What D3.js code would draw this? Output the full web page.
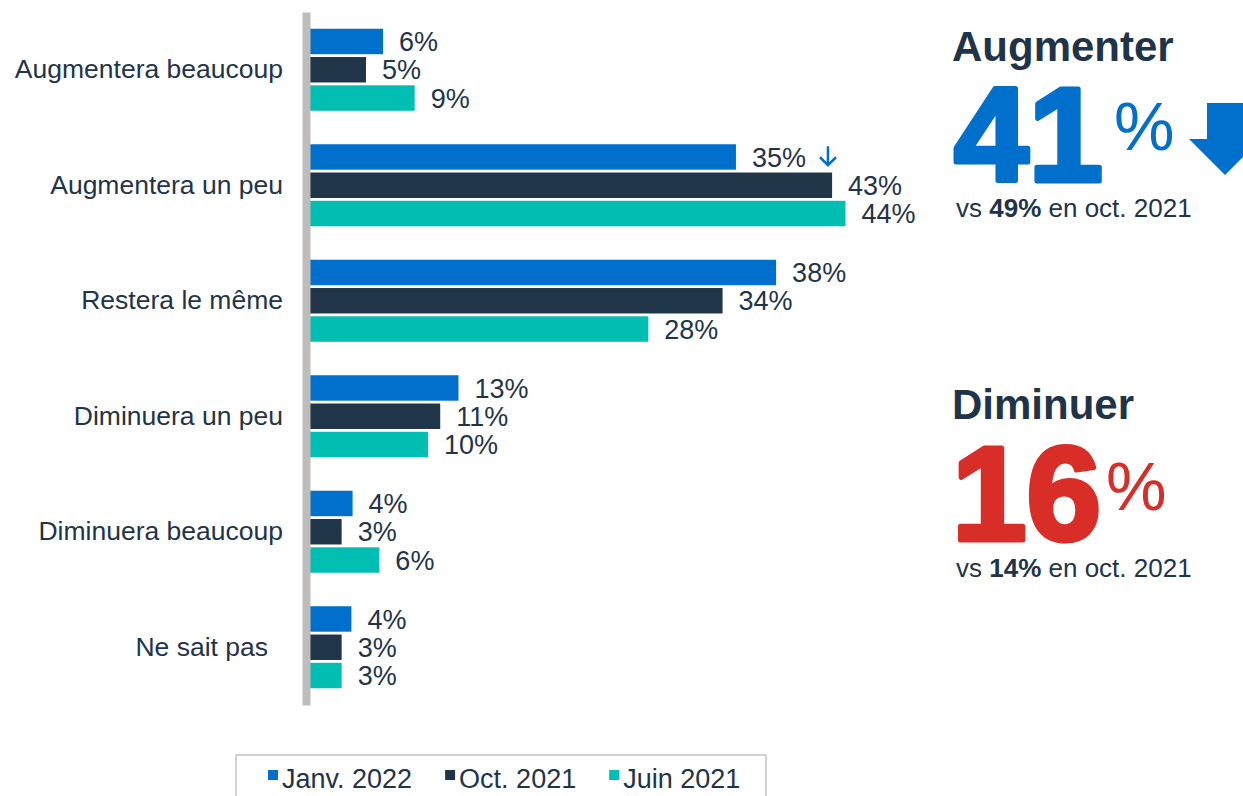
<html>
<head>
<meta charset="utf-8">
<script src="https://d3js.org/d3.v7.min.js"></script>
<style>
body { margin:0; background:#fff; }
text { font-family: "Liberation Sans", Arial, sans-serif; }
</style>
</head>
<body>
<script>
var width = 1243;
var height = 796;

var categories = ["Augmentera beaucoup", "Augmentera un peu", "Restera le même",
                  "Diminuera un peu", "Diminuera beaucoup", "Ne sait pas"];
var series = ["Janv. 2022", "Oct. 2021", "Juin 2021"];
// bar lengths
var janv2022 = [6.0, 35.0, 38.3, 12.2, 3.5, 3.4];
var oct2021 = [4.6, 42.9, 33.9, 10.7, 2.6, 2.6];
var juin2021 = [8.6, 44.0, 27.8, 9.7, 5.7, 2.6];
// printed labels
var janv2022Labels = ["6%", "35%", "38%", "13%", "4%", "4%"];
var oct2021Labels = ["5%", "43%", "34%", "11%", "3%", "3%"];
var juin2021Labels = ["9%", "44%", "28%", "10%", "6%", "3%"];

var colors = ["#0070cc", "#213549", "#00bfb2"];
var ink = "#1f3449";

var svg = d3.select("body").append("svg")
    .attr("width", width)
    .attr("height", height);

var x = d3.scaleLinear().domain([0, 50]).range([310, 310 + 608.5]);
var y0 = d3.scaleBand().domain(categories).range([12, 705])
    .paddingInner(0.29).paddingOuter(0.145);
var y1 = d3.scaleBand().domain(series).range([0, y0.bandwidth()])
    .paddingInner(0.1);
var z = d3.scaleOrdinal().domain(series).range(colors);

var table = categories.map(function(c, i) {
  return {cat: c, vals: [
    {s: series[0], v: janv2022[i], l: janv2022Labels[i]},
    {s: series[1], v: oct2021[i], l: oct2021Labels[i]},
    {s: series[2], v: juin2021[i], l: juin2021Labels[i]}
  ]};
});

var groups = svg.append("g").selectAll("g")
  .data(table)
  .enter().append("g")
    .attr("transform", function(d) { return "translate(0," + y0(d.cat) + ")"; });

groups.selectAll("rect")
  .data(function(d) { return d.vals; })
  .enter().append("rect")
    .attr("x", x(0))
    .attr("y", function(d) { return y1(d.s); })
    .attr("width", function(d) { return x(d.v) - x(0); })
    .attr("height", y1.bandwidth())
    .attr("fill", function(d) { return z(d.s); });

groups.selectAll("text.val")
  .data(function(d) { return d.vals; })
  .enter().append("text")
    .attr("class", "val")
    .attr("x", function(d) { return x(d.v) + 16; })
    .attr("y", function(d) { return y1(d.s) + y1.bandwidth() / 2; })
    .attr("dy", "0.36em")
    .attr("fill", ink)
    .style("font-size", "27px")
    .text(function(d) { return d.l; });

// axis line + category labels
var yAxis = svg.append("g")
    .attr("transform", "translate(306,0)")
    .call(d3.axisLeft(y0).tickSize(0).tickSizeOuter(0).tickPadding(23));
yAxis.select(".domain").attr("stroke", "#bfbdbb").attr("stroke-width", 8);
yAxis.selectAll(".tick text")
    .attr("fill", ink)
    .style("font-size", "26.5px")
    .style("font-family", "'Liberation Sans', Arial, sans-serif");
// last label sits a bit further left in the original
yAxis.selectAll(".tick text")
    .filter(function(d) { return d === "Ne sait pas"; })
    .attr("dx", -15);

// small arrow next to 35%
var ay = y0(categories[1]) + y1(series[0]);
var ax = x(janv2022[1]) + 92;
svg.append("path")
    .attr("d", "M" + ax + "," + (ay + 2) + "V" + (ay + 21) +
               "M" + (ax - 8) + "," + (ay + 13) + "L" + ax + "," + (ay + 21) + "L" + (ax + 8) + "," + (ay + 13))
    .attr("fill", "none")
    .attr("stroke", colors[0])
    .attr("stroke-width", 2.5);

// callouts
var right = svg.append("g").attr("fill", ink);
right.append("text").attr("x", 952).attr("y", 61)
    .style("font-size", "42px").style("font-weight", "bold").text("Augmenter");
right.append("text").attr("x", 954).attr("y", 181)
    .attr("fill", colors[0]).attr("stroke", colors[0]).attr("stroke-width", 5)
    .attr("stroke-linejoin", "round")
    .style("font-size", "134px").style("font-weight", "bold").text("41");
right.append("text").attr("x", 1114).attr("y", 150)
    .attr("fill", colors[0])
    .style("font-size", "68px").text("%");
svg.append("path")
    .attr("d", "M1207,103H1243V139H1261L1225,175L1189,139H1207Z")
    .attr("fill", colors[0]);
var t1 = right.append("text").attr("x", 956).attr("y", 217).style("font-size", "26px");
t1.append("tspan").text("vs ");
t1.append("tspan").style("font-weight", "bold").text("49%");
t1.append("tspan").text(" en oct. 2021");

right.append("text").attr("x", 952).attr("y", 419)
    .style("font-size", "42px").style("font-weight", "bold").text("Diminuer");
right.append("text").attr("x", 952).attr("y", 540)
    .attr("fill", "#d92d28").attr("stroke", "#d92d28").attr("stroke-width", 5)
    .attr("stroke-linejoin", "round")
    .style("font-size", "134px").style("font-weight", "bold").text("16");
right.append("text").attr("x", 1106).attr("y", 510)
    .attr("fill", "#d92d28")
    .style("font-size", "68px").text("%");
var t2 = right.append("text").attr("x", 956).attr("y", 577).style("font-size", "26px");
t2.append("tspan").text("vs ");
t2.append("tspan").style("font-weight", "bold").text("14%");
t2.append("tspan").text(" en oct. 2021");

// legend
svg.append("rect")
    .attr("x", 236).attr("y", 755)
    .attr("width", 530).attr("height", 60)
    .attr("fill", "none")
    .attr("stroke", "#c4c4c4")
    .attr("stroke-width", 1.5);
var lx = 268;
series.forEach(function(s) {
  svg.append("rect").attr("x", lx).attr("y", 770)
    .attr("width", 10).attr("height", 10).attr("fill", z(s));
  var t = svg.append("text").attr("x", lx + 14).attr("y", 788)
    .attr("fill", ink).style("font-size", "27px").text(s);
  lx = lx + 14 + t.node().getComputedTextLength() + 33;
});
</script>
</body>
</html>
